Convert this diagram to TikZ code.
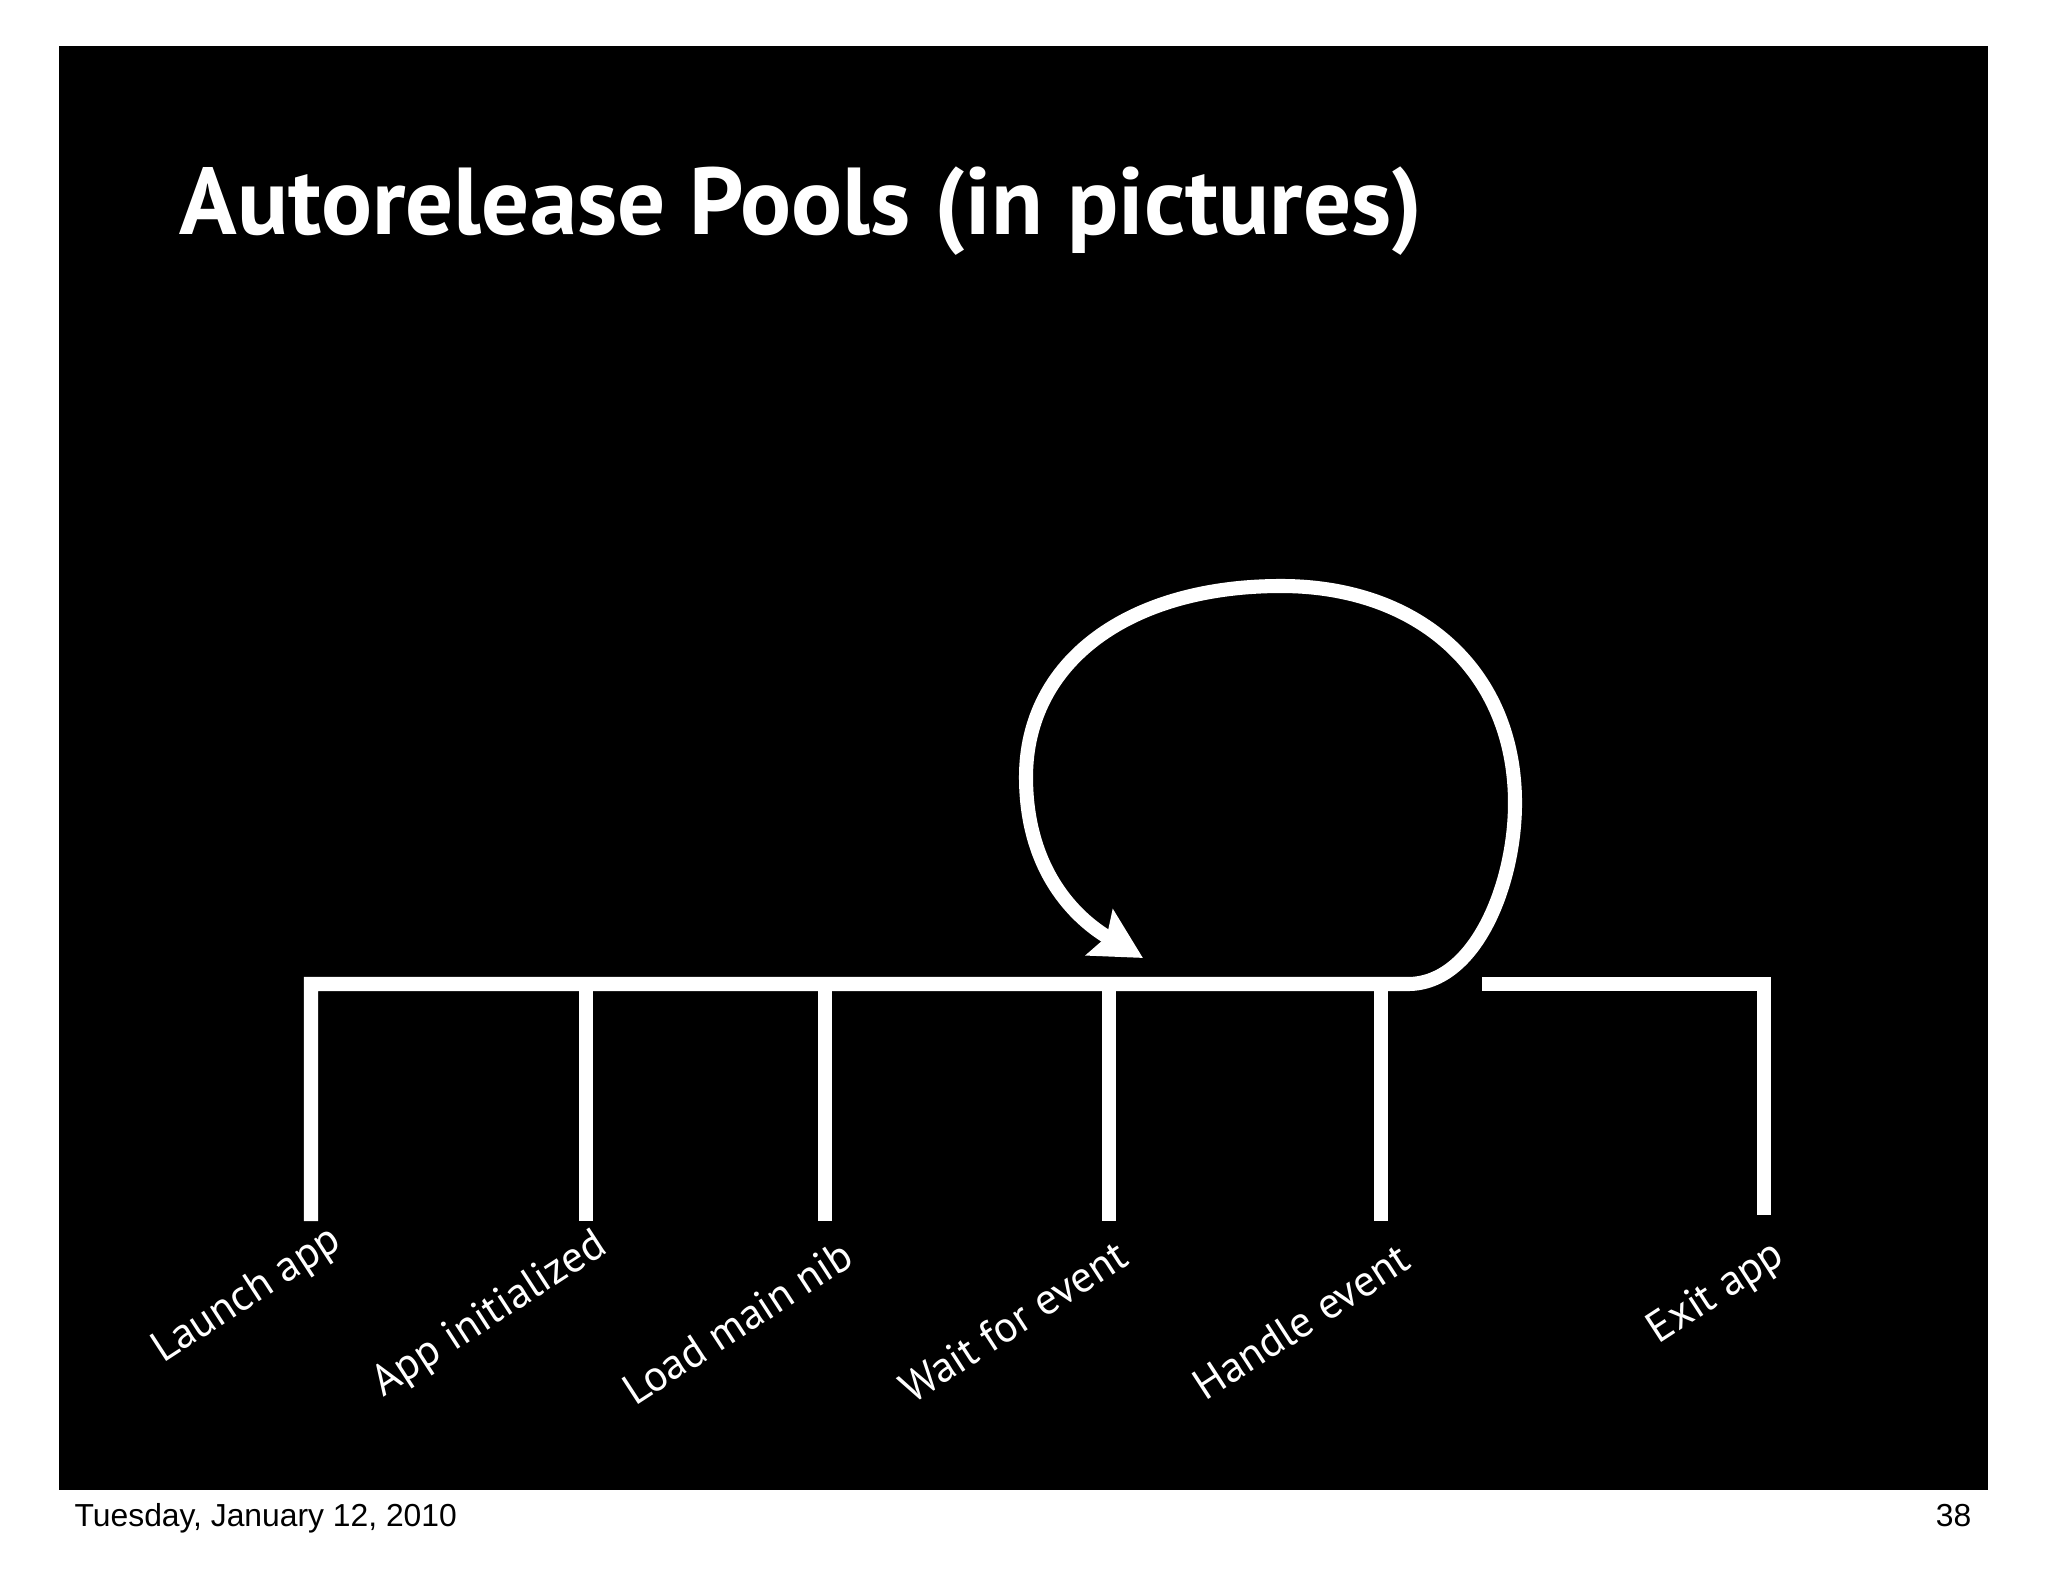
\documentclass[tikz,border=0pt]{standalone}
\usepackage{graphicx}
\usepackage{fontspec}
\setmainfont{PT Sans}
\newfontfamily\footfont{Liberation Sans}
\usetikzlibrary{arrows.meta}
\begin{document}
\begin{tikzpicture}[x=0.01cm,y=-0.01cm,
  bar/.style={draw=white,line width=4pt,line join=miter,line cap=butt},
  lbl/.style={text=white,font=\fontsize{12.4}{14}\selectfont,rotate=33,anchor=base west,inner sep=0pt},
  foot/.style={text=black,font=\footfont\fontsize{9.05}{11}\selectfont,inner sep=0pt}]
\useasboundingbox (0,0) rectangle (2048,1582);
\fill[white] (0,0) rectangle (2048,1582);
\fill[black] (59,46) rectangle (1988,1490);
% title
\node[anchor=base west,inner sep=0pt,text=white] (title) at (179,235)
  {\resizebox{12.42cm}{!}{\bfseries Autorelease Pools (in pictures)}};
% timeline coordinates
\coordinate (t1) at (311,984);
\coordinate (t2) at (586,984);
\coordinate (t3) at (825,984);
\coordinate (t4) at (1109,984);
\coordinate (t5) at (1381,984);
\coordinate (b1) at (311,1221);
\coordinate (b2) at (586,1221);
\coordinate (b3) at (825,1221);
\coordinate (b4) at (1109,1221);
\coordinate (b5) at (1381,1221);
\coordinate (loopstart) at (1408,984);
\coordinate (loopright) at (1515,803);
\coordinate (looptop) at (1281,586);
\coordinate (loopleft) at (1026,777);
\coordinate (tip) at (1143,958);
\coordinate (exitstart) at (1482,984);
\coordinate (exitcorner) at (1764,984);
\coordinate (b6) at (1764,1215);
% main bar with loop back arrow
\draw[bar,-{Stealth[length=0.5cm,width=0.52cm,inset=0.08cm]}]
  (b1) -- (t1) -- (loopstart)
  .. controls (1475,984) and (1515,885) .. (loopright)
  .. controls (1515,673) and (1421,586) .. (looptop)
  .. controls (1128,586) and (1026,662) .. (loopleft)
  .. controls (1026,870) and (1075,918) .. (tip);
\foreach \i in {2,3,4,5} \draw[bar] (t\i) -- (b\i);
% exit bar
\draw[bar] (exitstart) -- (exitcorner) -- (b6);
% labels
\node[lbl] (l1) at (163,1364) {Launch app};
\node[lbl] (l2) at (383,1398) {App initialized};
\node[lbl] (l3) at (635,1407) {Load main nib};
\node[lbl] (l4) at (912,1405) {Wait for event};
\node[lbl] (l5) at (1205,1402) {Handle event};
\node[lbl] (l6) at (1658,1345) {Exit app};
% footer
\node[foot,anchor=base west] (date) at (74,1526) {Tuesday, January 12, 2010};
\node[foot,anchor=base east] (page) at (1972,1526) {38};
\end{tikzpicture}
\end{document}
